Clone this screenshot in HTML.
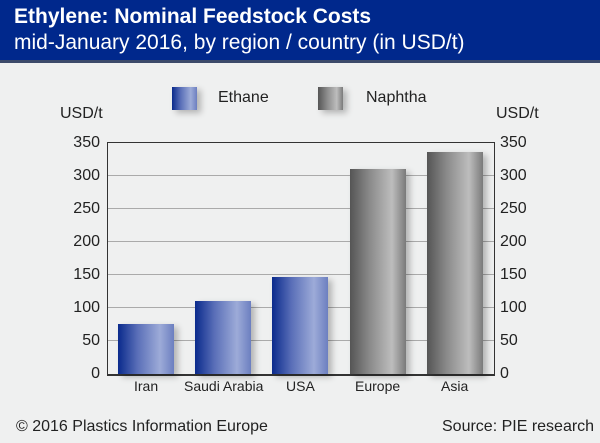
<!DOCTYPE html>
<html><head><style>
body{margin:0;width:600px;height:443px;background:#eff0f0;font-family:"Liberation Sans",sans-serif;position:relative;overflow:hidden}
.hd{position:absolute;left:0;top:0;width:600px;height:60px;background:#00288c;border-bottom:3px solid #3c4a6a;color:#fff}
.t{position:absolute;left:14px;top:5px;font-size:21px;font-weight:bold}
.s{position:absolute;left:14px;top:31px;font-size:21px}
.tx{position:absolute;font-size:15px;color:#222}
.bar{position:absolute;width:56px;box-shadow:4px 3px 6px rgba(0,0,0,.25)}
.b{background:linear-gradient(90deg,#0a2a8c 0%,#5a6fb8 35%,#9dabd8 75%,#6c7fc0 100%)}
.g{background:linear-gradient(90deg,#555 0%,#8a8a8a 35%,#bdbdbd 75%,#7a7a7a 100%)}
.grid{position:absolute;left:108px;width:386px;height:1px;background:#aaa}
.yl{position:absolute;font-size:16px;color:#222;width:40px}
</style></head><body>
<div class="hd"><div class="t">Ethylene: Nominal Feedstock Costs</div><div class="s">mid-January 2016, by region / country (in USD/t)</div></div>
<div class="bar b" style="left:172px;top:87px;width:25px;height:23px"></div><div class="tx" style="left:218px;top:89px;font-size:16px">Ethane</div>
<div class="bar g" style="left:318px;top:87px;width:25px;height:23px"></div><div class="tx" style="left:366px;top:89px;font-size:16px">Naphtha</div>
<div class="tx" style="left:60px;top:105px;font-size:16px">USD/t</div>
<div class="tx" style="left:496px;top:105px;font-size:16px">USD/t</div>
<div class="grid" style="top:175px"></div><div class="grid" style="top:208px"></div><div class="grid" style="top:241px"></div><div class="grid" style="top:274px"></div><div class="grid" style="top:307px"></div><div class="grid" style="top:340px"></div>
<div style="position:absolute;left:107px;top:142px;width:386px;height:231px;border:1px solid #333;border-bottom:2px solid #333"></div>
<div class="bar b" style="left:118px;top:324px;height:50px"></div>
<div class="bar b" style="left:195px;top:301px;height:73px"></div>
<div class="bar b" style="left:272px;top:277px;height:97px"></div>
<div class="bar g" style="left:350px;top:169px;height:205px"></div>
<div class="bar g" style="left:427px;top:152px;height:222px"></div>
<div class="yl" style="left:60px;top:134px;text-align:right">350</div><div class="yl" style="left:60px;top:167px;text-align:right">300</div><div class="yl" style="left:60px;top:200px;text-align:right">250</div><div class="yl" style="left:60px;top:233px;text-align:right">200</div><div class="yl" style="left:60px;top:266px;text-align:right">150</div><div class="yl" style="left:60px;top:299px;text-align:right">100</div><div class="yl" style="left:60px;top:332px;text-align:right">50</div><div class="yl" style="left:60px;top:365px;text-align:right">0</div>
<div class="yl" style="left:500px;top:134px">350</div><div class="yl" style="left:500px;top:167px">300</div><div class="yl" style="left:500px;top:200px">250</div><div class="yl" style="left:500px;top:233px">200</div><div class="yl" style="left:500px;top:266px">150</div><div class="yl" style="left:500px;top:299px">100</div><div class="yl" style="left:500px;top:332px">50</div><div class="yl" style="left:500px;top:365px">0</div>
<div class="tx" style="left:134px;top:378px;font-size:14px">Iran</div>
<div class="tx" style="left:184px;top:378px;font-size:14px">Saudi Arabia</div>
<div class="tx" style="left:286px;top:378px;font-size:14px">USA</div>
<div class="tx" style="left:355px;top:378px;font-size:14px">Europe</div>
<div class="tx" style="left:441px;top:378px;font-size:14px">Asia</div>
<div class="tx" style="left:16px;top:418px;font-size:16px">© 2016 Plastics Information Europe</div>
<div class="tx" style="left:442px;top:418px;font-size:16px">Source: PIE research</div>
</body></html>
